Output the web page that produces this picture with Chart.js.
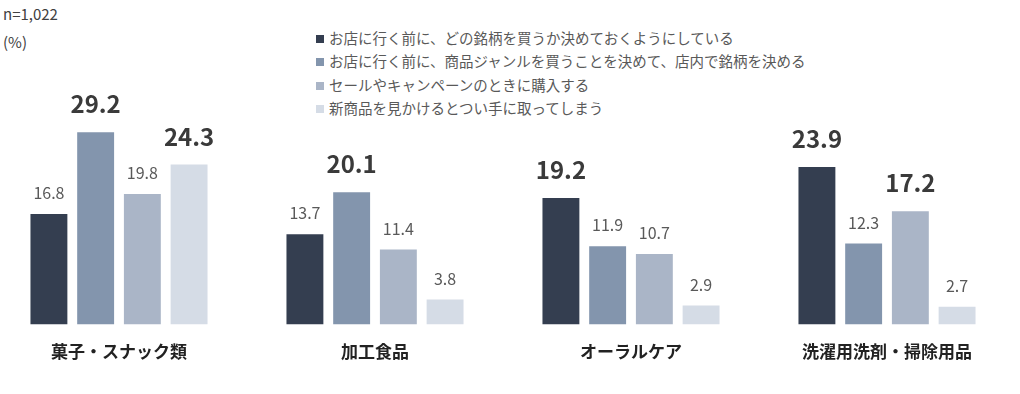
<!DOCTYPE html>
<html lang="ja">
<head>
<meta charset="utf-8">
<script src="https://cdn.jsdelivr.net/npm/chart.js@4/dist/chart.umd.min.js"></script>
<style>
    html, body { margin: 0; padding: 0; background: #fff; overflow: hidden; }
    body { width: 1020px; height: 394px; position: relative; font-family: 'Noto Sans CJK JP', 'Noto Sans', sans-serif; }
    #chart-wrap { position: absolute; left: -9px; top: 0; width: 1030px; height: 394px; }
    .note { position: absolute; left: 3px; font-size: 15px; color: #404040; }
    #legend { position: absolute; left: 316px; top: 26px; margin: 0; padding: 0; list-style: none; }
    #legend li { font-size: 14.5px; color: #595959; height: 23.4px; line-height: 23.4px; white-space: nowrap; }
    #legend span { display: inline-block; width: 8px; height: 8px; margin-right: 5px; vertical-align: 1px; }
</style>
</head>
<body>
<div class="note" style="top:3px">n=1,022</div>
<div class="note" style="top:31px">(%)</div>
<ul id="legend"></ul>
<div id="chart-wrap"><canvas id="purchase-chart"></canvas></div>
<script>
const categories = ['菓子・スナック類', '加工食品', 'オーラルケア', '洗濯用洗剤・掃除用品'];
const seriesNames = [
    'お店に行く前に、どの銘柄を買うか決めておくようにしている',
    'お店に行く前に、商品ジャンルを買うことを決めて、店内で銘柄を決める',
    'セールやキャンペーンのときに購入する',
    '新商品を見かけるとつい手に取ってしまう'
];
const brandDecided = [16.8, 13.7, 19.2, 23.9];
const genreDecided = [29.2, 20.1, 11.9, 12.3];
const onSale = [19.8, 11.4, 10.7, 17.2];
const impulseNew = [24.3, 3.8, 2.9, 2.7];
// which values are emphasised (big bold label)
const highlight = [
    [false, false, true, true],
    [true, true, false, false],
    [false, false, false, true],
    [true, false, false, false]
];
const colors = ['#343e50', '#8395ad', '#aab5c7', '#d5dce6'];

const legendEl = document.getElementById('legend');
legendEl.innerHTML = seriesNames.map((name, i) =>
    `<li><span style="background:${colors[i]}"></span>${name}</li>`
).join('');

const valueLabels = {
    id: 'valueLabels',
    afterDatasetsDraw(chart) {
        const ctx = chart.ctx;
        ctx.save();
        ctx.textAlign = 'center';
        ctx.textBaseline = 'middle';
        chart.data.datasets.forEach((ds, di) => {
            const meta = chart.getDatasetMeta(di);
            meta.data.forEach((bar, i) => {
                const big = highlight[di][i];
                ctx.font = big ? "bold 24px 'Noto Sans CJK JP'" : "16px 'Noto Sans CJK JP'";
                ctx.fillStyle = big ? '#3a3a3a' : '#595959';
                ctx.fillText(ds.data[i].toFixed(1), bar.x, bar.y - (big ? 28 : 21));
            });
        });
        ctx.restore();
    }
};

new Chart(document.getElementById('purchase-chart').getContext('2d'), {
    type: 'bar',
    data: {
        labels: categories,
        datasets: [brandDecided, genreDecided, onSale, impulseNew].map((data, i) => ({
            label: seriesNames[i],
            data: data,
            backgroundColor: colors[i],
            borderWidth: 0,
            categoryPercentage: 0.73,
            barPercentage: 0.79
        }))
    },
    options: {
        responsive: true,
        maintainAspectRatio: false,
        animation: false,
        layout: { padding: { top: 61, bottom: 15, left: 0, right: 6 } },
        plugins: {
            legend: { display: false },
            tooltip: { enabled: false }
        },
        scales: {
            x: {
                grid: { display: false, drawTicks: false },
                border: { display: false },
                ticks: {
                    padding: 17,
                    color: '#222',
                    font: { family: 'Noto Sans CJK JP', size: 17, weight: 'bold' }
                }
            },
            y: {
                display: false,
                min: 0,
                max: 40
            }
        }
    },
    plugins: [valueLabels]
});
</script>
</body>
</html>
